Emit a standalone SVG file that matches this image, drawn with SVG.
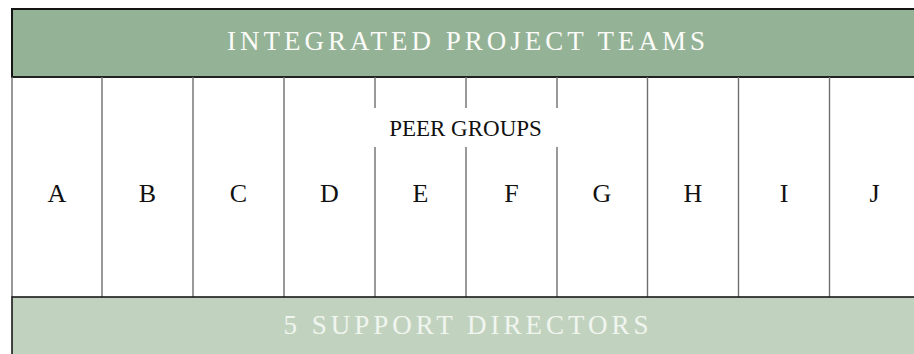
<svg xmlns="http://www.w3.org/2000/svg" width="914" height="354" viewBox="0 0 914 354">
  <style>
    .band-top { fill: #93b296; stroke: #141414; stroke-width: 2; }
    .band-bottom { fill: #c1d3bf; stroke: #1a1a1a; stroke-width: 1.6; }
    .divider { stroke: #6e6e6e; stroke-width: 1.4; fill: none; }
    .title { font-family: "Liberation Serif", "Times New Roman", serif; font-size: 27px; letter-spacing: 4px; text-anchor: middle; }
    .label { font-family: "Liberation Serif", "Times New Roman", serif; font-size: 26px; fill: #111; text-anchor: middle; }
    .peer { font-family: "Liberation Serif", "Times New Roman", serif; font-size: 23px; fill: #111; text-anchor: middle; }
  </style>

  <rect x="0" y="0" width="914" height="354" fill="#ffffff"/>

  <!-- top band -->
  <g id="integrated-project-teams">
    <rect class="band-top" x="12" y="9" width="912" height="68"/>
    <line x1="12" y1="77" x2="914" y2="77" stroke="#262626" stroke-width="1.4"/>
    <text class="title" x="468" y="49.5" fill="#fbfbf8">INTEGRATED PROJECT TEAMS</text>
  </g>

  <!-- column dividers -->
  <g id="connectors">
    <line class="divider" x1="12" y1="77" x2="12" y2="297"/>
    <line class="divider" x1="102" y1="77" x2="102" y2="297"/>
    <line class="divider" x1="193" y1="77" x2="193" y2="297"/>
    <line class="divider" x1="284" y1="77" x2="284" y2="297"/>
    <line class="divider" x1="375" y1="77" x2="375" y2="297"/>
    <line class="divider" x1="466" y1="77" x2="466" y2="297"/>
    <line class="divider" x1="557" y1="77" x2="557" y2="297"/>
    <line class="divider" x1="647.5" y1="77" x2="647.5" y2="297"/>
    <line class="divider" x1="738.5" y1="77" x2="738.5" y2="297"/>
    <line class="divider" x1="829.5" y1="77" x2="829.5" y2="297"/>
  </g>

  <!-- peer groups label, masking the dividers behind it -->
  <g id="peer-groups">
    <rect x="368" y="108" width="196" height="39" fill="#ffffff"/>
    <text class="peer" x="465.5" y="136">PEER GROUPS</text>
  </g>

  <!-- teams -->
  <g id="team-a"><text class="label" x="57" y="201.5">A</text></g>
  <g id="team-b"><text class="label" x="147.5" y="201.5">B</text></g>
  <g id="team-c"><text class="label" x="238.5" y="201.5">C</text></g>
  <g id="team-d"><text class="label" x="329.5" y="201.5">D</text></g>
  <g id="team-e"><text class="label" x="420.5" y="201.5">E</text></g>
  <g id="team-f"><text class="label" x="511.5" y="201.5">F</text></g>
  <g id="team-g"><text class="label" x="602" y="201.5">G</text></g>
  <g id="team-h"><text class="label" x="693" y="201.5">H</text></g>
  <g id="team-i"><text class="label" x="784" y="201.5">I</text></g>
  <g id="team-j"><text class="label" x="874.5" y="201.5">J</text></g>

  <!-- bottom band -->
  <g id="support-directors">
    <rect class="band-bottom" x="12" y="297" width="912" height="70"/>
    <text class="title" x="468" y="333.5" fill="#f1f5ef">5 SUPPORT DIRECTORS</text>
  </g>
</svg>
